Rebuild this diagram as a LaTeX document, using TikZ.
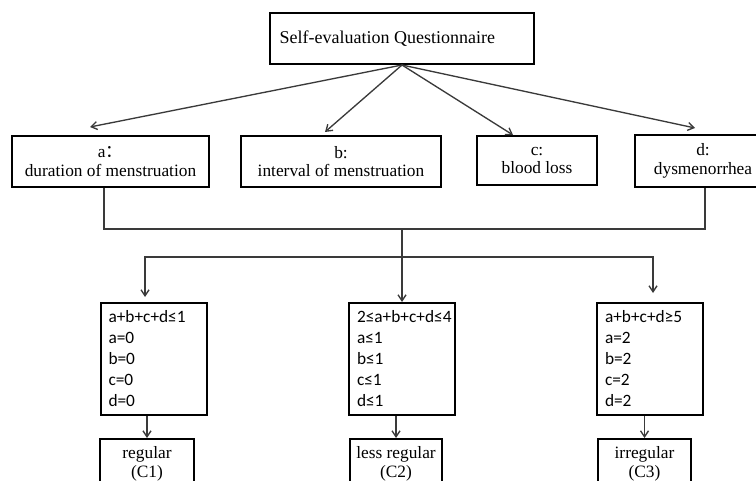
\documentclass[tikz,border=0pt]{standalone}
\usepackage{fontspec}
\setmainfont{Liberation Serif}
\newfontfamily\condfont{Carlito}
\newfontfamily\cjk{Noto Sans CJK SC}
\usetikzlibrary{arrows.meta}
\definecolor{cline}{HTML}{3A3A3A}
\tikzset{
  every picture/.style={line width=1pt},
  box/.style={draw=black, line width=1.5pt, align=center, inner sep=3pt, minimum height=38.25pt, font=\fontsize{13}{14}\selectfont},
  cond/.style={draw=black, line width=1.5pt, align=left, text width=67.5pt, inner xsep=6pt, minimum height=84pt, font=\condfont\fontsize{13}{15.75}\selectfont},
  res/.style={box, anchor=north, minimum height=37.5pt},
  arrow/.style={-{Straight Barb[length=4.5pt, width=6pt]}, draw=cline, line width=1pt},
  wire/.style={draw=cline, line width=1pt},
}

\begin{document}
\begin{tikzpicture}[x=0.75pt, y=-0.75pt]
  \useasboundingbox (0,0) rectangle (756,481);
  \clip (0,0) rectangle (756,481);
  % questionnaire and its four items
  \node[box, minimum width=198pt, font=\fontsize{13.5}{15}\selectfont] (quest) at (402,38.5) {Self-evaluation Questionnaire\hspace*{22pt}};
  \node[box, minimum width=147.75pt] (a) at (110.5,161.5) {a{\cjk ：}\\duration of menstruation};
  \node[box, minimum width=150pt] (b) at (341,161.5) {b:\\interval of menstruation};
  \node[box, minimum width=90pt, minimum height=36.75pt] (c) at (537,160.5) {c:\\blood loss};
  \node[box, minimum width=102pt] (d) at (703,161) {d:\\dysmenorrhea};
  \coordinate (ta) at (90,127);
  \coordinate (tb) at (325,132);
  \coordinate (tc) at (513,135);
  \coordinate (td) at (695,128);
  \draw[arrow] (quest.south) -- (ta); \draw[arrow] (quest.south) -- (tb);
  \draw[arrow] (quest.south) -- (tc); \draw[arrow] (quest.south) -- (td);
  % scores merged and split into three classes
  \coordinate (mrg) at (402,229);
  \coordinate (spl) at (402,257);
  \coordinate (tc1) at (145,297);
  \coordinate (tc3) at (653,293);
  \draw[wire] ([xshift=-4.9pt]a.south) |- (mrg) -| ([xshift=1.5pt]d.south);
  \node[cond] (cond1) at (153.5,359) {a+b+c+d≤1\\a=0\\b=0\\c=0\\d=0};
  \node[cond] (cond2) at (402,359) {2≤a+b+c+d≤4\\a≤1\\b≤1\\c≤1\\d≤1};
  \node[cond] (cond3) at (650,359) {a+b+c+d≥5\\a=2\\b=2\\c=2\\d=2};
  \draw[arrow] (mrg) -- (cond2.north);
  \draw[arrow] (spl) -| (tc1); \draw[arrow] (spl) -| (tc3);
  % results
  \node[res, minimum width=70.5pt] (res1) at (147,438) {regular\\(C1)};
  \node[res, minimum width=69pt] (res2) at (396,438) {less regular\\(C2)};
  \node[res, minimum width=69.75pt] (res3) at (644.5,438) {irregular\\(C3)};
  \draw[arrow] (cond1.south -| res1.north) -- (res1.north);
  \draw[arrow] (cond2.south -| res2.north) -- (res2.north);
  \draw[arrow] (cond3.south -| res3.north) -- (res3.north);
\end{tikzpicture}
\end{document}
